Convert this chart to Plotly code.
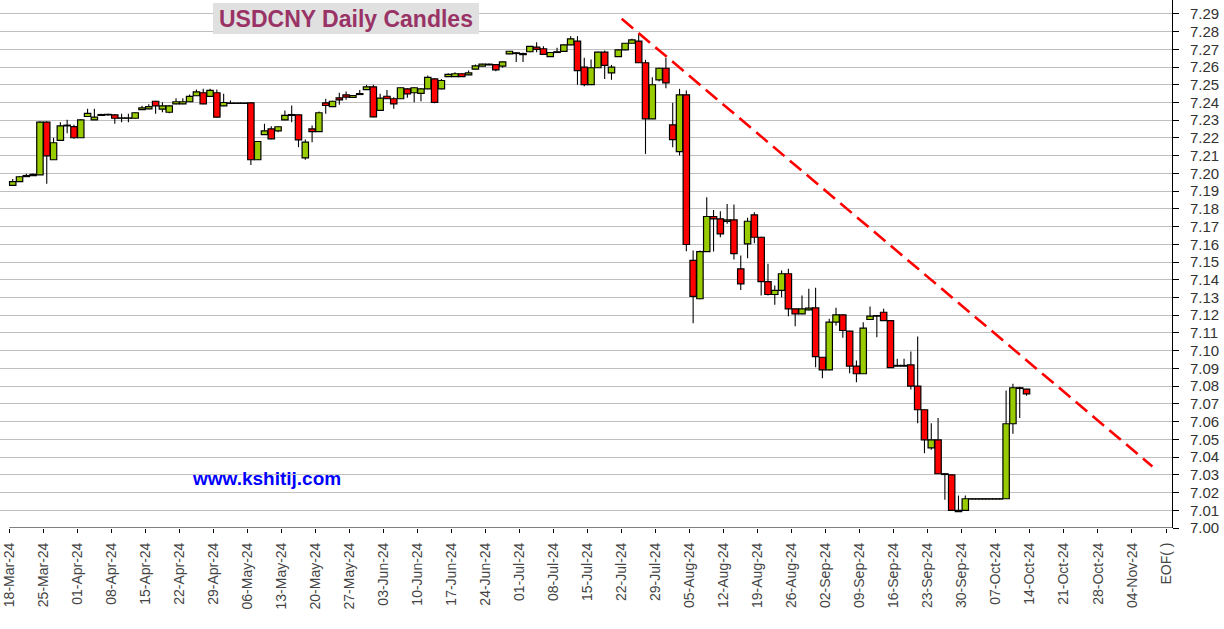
import numpy as np
import pandas as pd
import plotly.graph_objects as go

# ---------------- data ----------------
dates = pd.bdate_range("2024-03-18", "2024-10-11")  # 150 trading days

open_ = [7.1932, 7.1954, 7.1982, 7.1988, 7.1992, 7.2289, 7.2077, 7.2186, 7.2268, 7.2264,
         7.2201, 7.2321, 7.2302, 7.2327, 7.2330, 7.2330, 7.2311, 7.2311, 7.2311, 7.2360,
         7.2364, 7.2407, 7.2362, 7.2345, 7.2392, 7.2392, 7.2404, 7.2438, 7.2455, 7.2434,
         7.2455, 7.2381, 7.2395, 7.2395, 7.2395, 7.2398, 7.2077, 7.2219, 7.2251, 7.2240,
         7.2302, 7.2327, 7.2330, 7.2088, 7.2251, 7.2236, 7.2398, 7.2377, 7.2426, 7.2443,
         7.2428, 7.2445, 7.2473, 7.2488, 7.2355, 7.2435, 7.2421, 7.2421, 7.2477, 7.2455,
         7.2451, 7.2477, 7.2533, 7.2477, 7.2546, 7.2546, 7.2562, 7.2556, 7.2588, 7.2605,
         7.2612, 7.2614, 7.2605, 7.2674, 7.2680, 7.2676, 7.2686, 7.2712, 7.2703, 7.2659,
         7.2682, 7.2688, 7.2725, 7.2746, 7.2599, 7.2501, 7.2596, 7.2684, 7.2567, 7.2659,
         7.2697, 7.2734, 7.2746, 7.2624, 7.2308, 7.2528, 7.2593, 7.2274, 7.2123, 7.2443,
         7.1509, 7.1293, 7.1559, 7.1757, 7.1744, 7.1729, 7.1738, 7.1462, 7.1603, 7.1766,
         7.1640, 7.1390, 7.1317, 7.1340, 7.1434, 7.1236, 7.1208, 7.1230, 7.1242, 7.0963,
         7.0892, 7.1161, 7.1202, 7.1110, 7.0913, 7.0870, 7.1176, 7.1195, 7.1217, 7.1170,
         7.0913, 7.0913, 7.0920, 7.0800, 7.0667, 7.0452, 7.0497, 7.0306, 7.0300, 7.0099,
         7.0099, 7.0163, 7.0163, 7.0163, 7.0163, 7.0163, 7.0165, 7.0588, 7.0791, 7.0783]

high = [7.1969, 7.1985, 7.1998, 7.2000, 7.2294, 7.2294, 7.2201, 7.2289, 7.2302, 7.2274,
        7.2305, 7.2364, 7.2364, 7.2336, 7.2336, 7.2333, 7.2336, 7.2336, 7.2345, 7.2381,
        7.2390, 7.2410, 7.2401, 7.2385, 7.2424, 7.2424, 7.2445, 7.2473, 7.2477, 7.2477,
        7.2473, 7.2449, 7.2411, 7.2398, 7.2398, 7.2400, 7.2182, 7.2280, 7.2266, 7.2265,
        7.2355, 7.2383, 7.2333, 7.2191, 7.2270, 7.2349, 7.2421, 7.2410, 7.2455, 7.2462,
        7.2442, 7.2471, 7.2500, 7.2500, 7.2449, 7.2471, 7.2430, 7.2485, 7.2480, 7.2486,
        7.2480, 7.2552, 7.2536, 7.2533, 7.2565, 7.2571, 7.2565, 7.2580, 7.2614, 7.2618,
        7.2620, 7.2616, 7.2631, 7.2691, 7.2684, 7.2680, 7.2718, 7.2740, 7.2717, 7.2684,
        7.2708, 7.2727, 7.2774, 7.2774, 7.2652, 7.2642, 7.2686, 7.2693, 7.2612, 7.2699,
        7.2736, 7.2759, 7.2787, 7.2641, 7.2542, 7.2596, 7.2652, 7.2398, 7.2477, 7.2468,
        7.1565, 7.1565, 7.1866, 7.1794, 7.1787, 7.1828, 7.1825, 7.1537, 7.1750, 7.1781,
        7.1642, 7.1490, 7.1368, 7.1452, 7.1462, 7.1238, 7.1311, 7.1349, 7.1355, 7.0965,
        7.1180, 7.1242, 7.1205, 7.1113, 7.0945, 7.1161, 7.1249, 7.1200, 7.1236, 7.1172,
        7.0954, 7.0954, 7.0995, 7.1080, 7.0670, 7.0591, 7.0621, 7.0308, 7.0302, 7.0183,
        7.0183, 7.0168, 7.0168, 7.0168, 7.0168, 7.0168, 7.0775, 7.0813, 7.0796, 7.0785]

low = [7.1932, 7.1954, 7.1982, 7.1986, 7.1992, 7.1941, 7.2077, 7.2186, 7.2227, 7.2195,
       7.2201, 7.2321, 7.2302, 7.2327, 7.2327, 7.2280, 7.2289, 7.2289, 7.2308, 7.2358,
       7.2362, 7.2336, 7.2345, 7.2339, 7.2390, 7.2390, 7.2402, 7.2436, 7.2390, 7.2432,
       7.2315, 7.2379, 7.2394, 7.2394, 7.2394, 7.2048, 7.2075, 7.2217, 7.2193, 7.2232,
       7.2300, 7.2289, 7.2148, 7.2077, 7.2176, 7.2234, 7.2336, 7.2375, 7.2387, 7.2415,
       7.2426, 7.2443, 7.2471, 7.2317, 7.2353, 7.2419, 7.2364, 7.2419, 7.2426, 7.2401,
       7.2407, 7.2475, 7.2396, 7.2475, 7.2544, 7.2544, 7.2544, 7.2554, 7.2586, 7.2603,
       7.2610, 7.2576, 7.2596, 7.2672, 7.2629, 7.2629, 7.2684, 7.2684, 7.2669, 7.2657,
       7.2680, 7.2686, 7.2723, 7.2500, 7.2492, 7.2499, 7.2594, 7.2533, 7.2528, 7.2657,
       7.2695, 7.2732, 7.2622, 7.2110, 7.2306, 7.2518, 7.2480, 7.2148, 7.2101, 7.1561,
       7.1155, 7.1290, 7.1557, 7.1559, 7.1640, 7.1716, 7.1514, 7.1343, 7.1522, 7.1606,
       7.1311, 7.1311, 7.1259, 7.1302, 7.1195, 7.1138, 7.1206, 7.1228, 7.0907, 7.0845,
       7.0890, 7.1142, 7.1073, 7.0873, 7.0822, 7.0868, 7.1174, 7.1076, 7.1168, 7.0902,
       7.0911, 7.0911, 7.0781, 7.0591, 7.0422, 7.0441, 7.0304, 7.0159, 7.0097, 7.0090,
       7.0097, 7.0161, 7.0161, 7.0161, 7.0161, 7.0161, 7.0163, 7.0531, 7.0621, 7.0746]

close = [7.1954, 7.1981, 7.1988, 7.1995, 7.2289, 7.2099, 7.2173, 7.2268, 7.2272, 7.2201,
         7.2302, 7.2338, 7.2317, 7.2332, 7.2333, 7.2311, 7.2313, 7.2313, 7.2342, 7.2370,
         7.2377, 7.2381, 7.2381, 7.2381, 7.2404, 7.2404, 7.2434, 7.2460, 7.2392, 7.2468,
         7.2317, 7.2400, 7.2397, 7.2397, 7.2397, 7.2077, 7.2180, 7.2240, 7.2195, 7.2263,
         7.2327, 7.2332, 7.2189, 7.2176, 7.2236, 7.2342, 7.2383, 7.2407, 7.2415, 7.2430,
         7.2439, 7.2450, 7.2488, 7.2319, 7.2424, 7.2421, 7.2392, 7.2483, 7.2449, 7.2483,
         7.2477, 7.2542, 7.2401, 7.2524, 7.2558, 7.2562, 7.2546, 7.2567, 7.2607, 7.2616,
         7.2616, 7.2584, 7.2629, 7.2689, 7.2676, 7.2670, 7.2716, 7.2700, 7.2671, 7.2682,
         7.2686, 7.2725, 7.2759, 7.2580, 7.2501, 7.2596, 7.2684, 7.2609, 7.2599, 7.2697,
         7.2734, 7.2753, 7.2624, 7.2308, 7.2500, 7.2593, 7.2511, 7.2191, 7.2443, 7.1599,
         7.1306, 7.1559, 7.1757, 7.1744, 7.1659, 7.1738, 7.1547, 7.1377, 7.1730, 7.1640,
         7.1390, 7.1317, 7.1340, 7.1434, 7.1236, 7.1208, 7.1236, 7.1240, 7.0967, 7.0892,
         7.1161, 7.1202, 7.1114, 7.0913, 7.0870, 7.1127, 7.1195, 7.1198, 7.1170, 7.0904,
         7.0917, 7.0917, 7.0800, 7.0667, 7.0497, 7.0497, 7.0306, 7.0302, 7.0099, 7.0092,
         7.0165, 7.0165, 7.0165, 7.0165, 7.0165, 7.0165, 7.0588, 7.0791, 7.0787, 7.0757]

week_starts = pd.date_range("2024-03-18", "2024-11-04", freq="7D")
tick_labels = [d.strftime("%d-%b-%y") for d in week_starts] + ["EOF( )"]
y_ticks = [round(7.00 + 0.01 * k, 2) for k in range(30)]

trend_dates = ["2024-07-22", "2024-11-07"]
trend_prices = [7.2872, 7.0347]

title_text = "USDCNY Daily Candles"
watermark = "www.kshitij.com"

# ---------------- positions (trading-day scale) ----------------
origin = np.datetime64("2024-03-18")


def day_pos(d):
    return float(np.busday_count(origin, np.datetime64(pd.Timestamp(d).date())))


x_pos = [day_pos(d) for d in dates]
tick_pos = [5 * k - 0.5 for k in range(len(tick_labels))]
trend_pos = [day_pos(d) - 0.5 for d in trend_dates]

X_RANGE = [-1.87, 170.38]
Y_RANGE = [7.0, 7.2978]
PW, PH = 1172, 528
MIN_BODY = 0.00015

up = [c >= o for o, c in zip(open_, close)]
body_base = [min(o, c) for o, c in zip(open_, close)]
body_len = [max(abs(c - o), MIN_BODY) for o, c in zip(open_, close)]
wick_len = [h - l for h, l in zip(high, low)]

fig = go.Figure()
# wicks (drawn first, under the bodies)
fig.add_trace(go.Bar(
    x=x_pos, y=wick_len, base=low, width=0.16,
    marker=dict(color="black", line=dict(width=0)),
    showlegend=False, hoverinfo="skip",
))
# bodies
for is_up, fill in ((True, "#99CC00"), (False, "#FF0000")):
    idx = [i for i, u in enumerate(up) if u == is_up]
    fig.add_trace(go.Bar(
        x=[x_pos[i] for i in idx], y=[body_len[i] for i in idx],
        base=[body_base[i] for i in idx], width=0.94,
        marker=dict(color=fill, line=dict(color="black", width=1.2)),
        showlegend=False, hoverinfo="skip",
    ))
fig.add_trace(go.Scatter(
    x=trend_pos, y=trend_prices, mode="lines",
    line=dict(color="#FF0000", width=2.6, dash="15px,7px"),
    showlegend=False, hoverinfo="skip",
))

font_family = "Liberation Sans, Arial, sans-serif"

fig.update_layout(
    width=1224, height=629,
    margin=dict(l=0, r=1224 - PW, t=0, b=629 - PH),
    paper_bgcolor="white", plot_bgcolor="white",
    barmode="overlay",
    showlegend=False,
    xaxis=dict(
        range=X_RANGE, tickmode="array", tickvals=tick_pos, ticktext=tick_labels,
        tickangle=-90, ticks="outside", ticklen=4, tickcolor="black",
        showgrid=False, showline=False, zeroline=False, automargin=False,
        tickfont=dict(family=font_family, size=14, color="#444444"),
        ticklabelstandoff=4,
    ),
    xaxis2=dict(
        overlaying="x", anchor="y", side="bottom", range=X_RANGE,
        tickmode="array", tickvals=tick_pos[:-1], automargin=False,
        showgrid=True, gridcolor="#C0C0C0", gridwidth=1,
        ticks="inside", ticklen=3, tickcolor="black",
        showticklabels=False, showline=False, zeroline=False,
    ),
    yaxis=dict(
        side="right", range=Y_RANGE, tickmode="array", tickvals=y_ticks,
        tickformat=".2f", ticks="outside", ticklen=6, tickcolor="black",
        showline=True, linecolor="black", linewidth=1, automargin=False,
        showgrid=True, gridcolor="#C0C0C0", gridwidth=1, zeroline=False,
        tickfont=dict(family=font_family, size=15, color="#333333"),
        ticklabelstandoff=8,
    ),
    yaxis2=dict(
        overlaying="y", anchor="x", side="right", range=Y_RANGE, automargin=False,
        tickmode="array", tickvals=y_ticks, ticks="inside", ticklen=6,
        tickcolor="black", showticklabels=False, showgrid=False,
        showline=False, zeroline=False,
    ),
)

# bottom axis line starting at the first week tick
fig.add_shape(type="line", xref="x", yref="y", x0=tick_pos[0], x1=X_RANGE[1],
              y0=Y_RANGE[0], y1=Y_RANGE[0], line=dict(color="black", width=1))

# title box
fig.add_shape(type="rect", xref="paper", yref="paper",
              x0=213 / PW, x1=479 / PW, y0=1 - 34 / PH, y1=1 - 3 / PH,
              fillcolor="#E0E0E0", line=dict(width=0), layer="above")
fig.add_annotation(text=title_text, xref="paper", yref="paper",
                   x=346 / PW, y=1 - 18.5 / PH, xanchor="center", yanchor="middle",
                   showarrow=False,
                   font=dict(family=font_family, size=23, color="#993366", weight="bold"))

fig.add_annotation(text=watermark, xref="paper", yref="paper",
                   x=266 / PW, y=1 - 478 / PH, xanchor="center", yanchor="middle",
                   showarrow=False,
                   font=dict(family=font_family, size=19, color="#0000FF", weight="bold"))

fig.write_html("out.html", config={"displayModeBar": False, "staticPlot": True},
               post_script="document.body.style.margin='0';document.body.style.overflow='hidden';")
